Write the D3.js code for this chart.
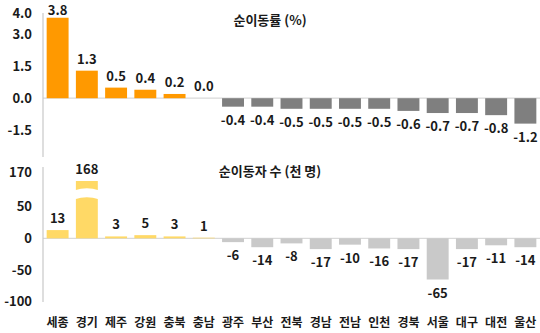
<!DOCTYPE html>
<html>
<head>
<meta charset="utf-8">
<script src="https://cdn.jsdelivr.net/npm/d3@7"></script>
<style>
  body { margin: 0; background: #fff; }
  text { font-family: "Noto Sans CJK KR", "Noto Sans", sans-serif; font-weight: 700; }
</style>
</head>
<body>
<script>
// regions, ordered as in the chart
var regions = ["세종", "경기", "제주", "강원", "충북", "충남", "광주", "부산", "전북",
               "경남", "전남", "인천", "경북", "서울", "대구", "대전", "울산"];

// net migration rate (%)
var rateValues = [3.8, 1.3, 0.5, 0.4, 0.2, 0.0, -0.4, -0.4, -0.5, -0.5, -0.5, -0.5,
                  -0.6, -0.7, -0.7, -0.8, -1.2];

// net migrants (thousand people)
var countValues = [13, 168, 3, 5, 3, 1, -6, -14, -8, -17, -10, -16, -17, -65, -17, -11, -14];

var rateTicks = [-1.5, 0, 1.5, 3.0, 4.0];
var countTicks = [-100, -50, 0, 50, 170];

// broken axis on the lower chart
var breakLow = 60, breakHigh = 166;

var svgWidth = 540, svgHeight = 333;
var axisX = 43;

var svg = d3.select("body")
            .append("svg")
            .attr("width", svgWidth)
            .attr("height", svgHeight);

// shared x scale
var xScale = d3.scaleBand()
    .domain(regions)
    .range([axisX, 540])
    .paddingInner(0.25)
    .paddingOuter(0.125);

// top scale
var yRate = d3.scaleLinear()
    .domain([-2.8, 4.0])
    .range([157.5, 13.5]);

// bottom scale, piecewise because of the break
var yCount = d3.scaleLinear()
    .domain([-100, breakLow, breakHigh, 170])
    .range([301.7, 200.3, 189.3, 172.7]);

// plain hyphen instead of the unicode minus
function fmtRate(d) { return d3.format(".1f")(d).replace("\u2212", "-"); }
function fmtCount(d) { return d3.format("d")(d).replace("\u2212", "-"); }

function drawPanel(values, yScale, ticks, tickFmt, posColor, negColor, title, titleY, axisTop, axisBottom) {
  var g = svg.append("g");

  // zero line
  g.append("line")
    .attr("x1", axisX).attr("x2", 540)
    .attr("y1", yScale(0)).attr("y2", yScale(0))
    .style("stroke", "#d9d9d9")
    .style("stroke-width", 1.2);

  // y axis line
  g.append("line")
    .attr("x1", axisX).attr("x2", axisX)
    .attr("y1", axisTop).attr("y2", axisBottom)
    .style("stroke", "#c8c8c8")
    .style("stroke-width", 1.2);

  // tick labels via d3 axis
  var axis = g.append("g")
    .attr("transform", "translate(" + (axisX - 11) + ",0)")
    .call(d3.axisLeft(yScale).tickValues(ticks).tickFormat(tickFmt).tickSize(0).tickPadding(0));
  axis.select(".domain").remove();
  axis.selectAll("text")
    .style("font-size", "13px")
    .style("fill", "#1a1a1a");

  // bars
  g.selectAll("rect.bar")
    .data(values)
    .enter()
    .append("rect")
    .attr("class", "bar")
    .attr("x", function(d, i) { return xScale(regions[i]); })
    .attr("width", xScale.bandwidth())
    .attr("y", function(d) { return Math.min(yScale(d), yScale(0)); })
    .attr("height", function(d) { return Math.abs(yScale(d) - yScale(0)); })
    .style("fill", function(d) { return d >= 0 ? posColor : negColor; });

  // value labels
  g.selectAll("text.val")
    .data(values)
    .enter()
    .append("text")
    .attr("class", "val")
    .attr("x", function(d, i) { return xScale(regions[i]) + xScale.bandwidth() / 2; })
    .attr("y", function(d) { return d >= 0 ? Math.max(yScale(d) - 7, 15) : yScale(d) + 18; })
    .style("text-anchor", "middle")
    .style("font-size", "13px")
    .style("fill", "#1a1a1a")
    .text(function(d) { return tickFmt(d); });

  // title
  g.append("text")
    .attr("x", 270)
    .attr("y", titleY)
    .style("text-anchor", "middle")
    .style("font-size", "13px")
    .style("fill", "#1a1a1a")
    .text(title);

  return g;
}

drawPanel(rateValues, yRate, rateTicks, fmtRate, "#ff9900", "#7f7f7f",
          "순이동률 (%)", 25, 13, 157);

var bottom = drawPanel(countValues, yCount, countTicks, fmtCount, "#ffd966", "#c9c9c9",
          "순이동자 수 (천 명)", 176, 167, 302);

// white wavy gap across bars that pass the break
countValues.forEach(function(d, i) {
  if (d > breakHigh) {
    var x0 = xScale(regions[i]) - 1, x1 = x0 + xScale.bandwidth() + 2;
    var yLo = yCount(breakLow) - 1, yHi = yCount(breakHigh) + 1;
    var mid = (x0 + x1) / 2;
    bottom.append("path")
      .attr("d", "M" + x0 + "," + yHi +
                 " Q" + mid + "," + (yHi - 4) + " " + x1 + "," + yHi +
                 " L" + x1 + "," + yLo +
                 " Q" + mid + "," + (yLo - 4) + " " + x0 + "," + yLo + " Z")
      .style("fill", "#fff");
  }
});

// x labels
svg.selectAll("text.cat")
  .data(regions)
  .enter()
  .append("text")
  .attr("class", "cat")
  .attr("x", function(d) { return xScale(d) + xScale.bandwidth() / 2; })
  .attr("y", 327)
  .style("text-anchor", "middle")
  .style("font-size", "12px")
  .style("fill", "#1a1a1a")
  .text(function(d) { return d; });
</script>
</body>
</html>
